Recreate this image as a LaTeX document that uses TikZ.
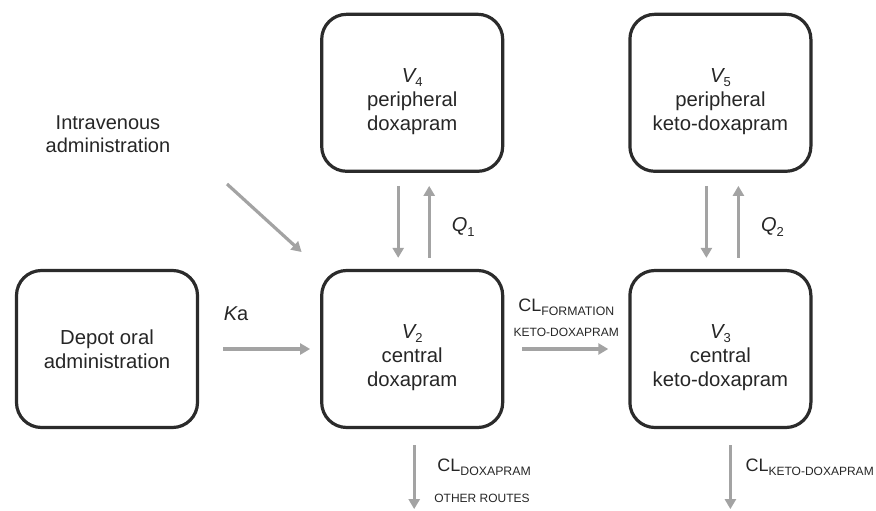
\documentclass[tikz,border=0pt]{standalone}
\usepackage{fontspec}
\setmainfont{Liberation Sans}
\usetikzlibrary{positioning,arrows.meta}
\definecolor{boxline}{HTML}{2B2B2B}
\definecolor{flowgray}{HTML}{A3A3A3}
\definecolor{txt}{HTML}{262626}
\newcommand{\lowsub}[2][12.3]{\raisebox{-4.5pt}{\fontsize{#1}{#1}\selectfont #2}}
\newcommand{\vname}[1]{\rule{0pt}{31pt}{\itshape V}\lowsub[13]{#1}}

\begin{document}
\begin{tikzpicture}[x=1pt, y=1pt, node distance={96pt and 121pt},
    comp/.style={draw=boxline, line width=3.2pt, rounded corners=25pt, minimum width=181pt, minimum height=157pt, align=center, text=txt, font=\fontsize{20.3}{24}\selectfont},
    flow/.style={draw=flowgray, line width=3.2pt, -{Triangle[length=10pt,width=11pt]}},
    lbl/.style={text=txt, inner sep=0pt, font=\fontsize{20}{23.5}\selectfont},
    cl/.style={text=txt, inner sep=0pt, font=\fontsize{18}{22}\selectfont},
    small/.style={text=txt, inner sep=0pt, font=\fontsize{12}{14}\selectfont}]
    \useasboundingbox (0,0) rectangle (876,-511);
        % compartments
        \node[comp] (depot) at (107,-349) {Depot oral\\administration};
        \node[comp] (V2) [right=of depot] {\vname{2}\\central\\doxapram};
        \node[comp] (V3) [right=124pt of V2] {\vname{3}\\central\\keto-doxapram};
        \node[comp] (V4) [above=of V2] {\vname{4}\\peripheral\\doxapram};
        \node[comp] (V5) [above=of V3] {\vname{5}\\peripheral\\keto-doxapram};
        % dosing
        \node[lbl, align=center] (iv) at (108,-134) {Intravenous\\administration};
        \coordinate (ivstart) at (227,-184);
        \draw[flow, shorten >=25pt] (ivstart) -- (V2.north west);
        \draw[flow, shorten <=24pt, shorten >=10pt] (depot) -- (V2);
        \node[lbl] (ka) at ([xshift=37pt,yshift=35pt]depot.east) {\itshape K\upshape a};
        % distribution
        \draw[flow, shorten <=13pt, shorten >=11pt] ([xshift=-14pt]V4.south) -- ([xshift=-14pt]V2.north);
        \draw[flow, shorten <=11pt, shorten >=13pt] ([xshift=17pt]V2.north) -- ([xshift=17pt]V4.south);
        \node[lbl] (q1) at ([xshift=51pt,yshift=42pt]V2.north) {{\itshape Q}\lowsub[13]{1}};
        \draw[flow, shorten <=13pt, shorten >=11pt] ([xshift=-14pt]V5.south) -- ([xshift=-14pt]V3.north);
        \draw[flow, shorten <=11pt, shorten >=13pt] ([xshift=18pt]V3.north) -- ([xshift=18pt]V5.south);
        \node[lbl] (q2) at ([xshift=52pt,yshift=42pt]V3.north) {{\itshape Q}\lowsub[13]{2}};
        % formation
        \draw[flow, shorten <=18pt, shorten >=20pt] (V2) -- node[small, above=11pt] (keto) {KETO-DOXAPRAM} (V3);
        \node[cl] (clf) [above=10pt of keto] {CL\lowsub{FORMATION}};
        % elimination
        \coordinate (sink2) at ([xshift=2pt,yshift=-80pt]V2.south);
        \draw[flow, shorten <=16pt] ([xshift=2pt]V2.south) -- (sink2);
        \node[cl, anchor=west] (cl2) at ([xshift=25pt,yshift=-38pt]V2.south) {CL\lowsub{DOXAPRAM}};
        \node[small, anchor=west] (other) at ([xshift=22pt,yshift=-69pt]V2.south) {OTHER ROUTES};
        \coordinate (sink3) at ([xshift=10pt,yshift=-80pt]V3.south);
        \draw[flow, shorten <=16pt] ([xshift=10pt]V3.south) -- (sink3);
        \node[cl, anchor=west] (cl3) at ([xshift=25pt,yshift=-38pt]V3.south) {CL\lowsub[12]{KETO-DOXAPRAM}};
    \end{tikzpicture}
\end{document}
